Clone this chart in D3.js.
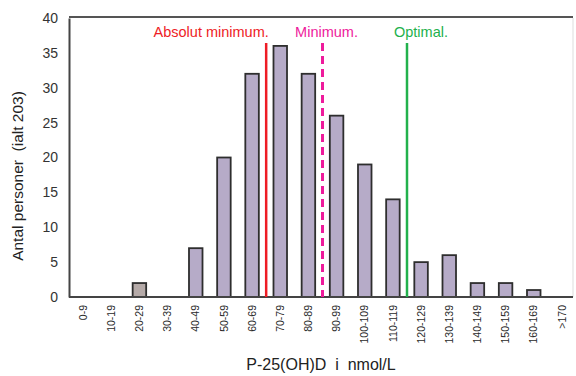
<!DOCTYPE html>
<html>
<head>
<meta charset="utf-8">
<script src="https://cdn.jsdelivr.net/npm/d3@7"></script>
<style>
  body { margin: 0; background: #fff; }
  svg { font-family: "Liberation Sans", Arial, sans-serif; }
</style>
</head>
<body>
<script>
const width = 576,
  height = 376;

// antal personer per intervall (nmol/L)
const categories = ['0-9', '10-19', '20-29', '30-39', '40-49', '50-59', '60-69', '70-79', '80-89',
  '90-99', '100-109', '110-119', '120-129', '130-139', '140-149', '150-159', '160-169', '>170'];
const counts = [0, 0, 2, 0, 7, 20, 32, 36, 32, 26, 19, 14, 5, 6, 2, 2, 1, 0];
const yTicks = [0, 5, 10, 15, 20, 25, 30, 35, 40];

// gränser: linjen dras vid början av intervallet
const limits = [
  { label: 'Absolut minimum.', at: '70-79', color: '#ee1c25', dash: null, labelX: -55 },
  { label: 'Minimum.', at: '90-99', color: '#ee1b9c', dash: '8,5', labelX: 4 },
  { label: 'Optimal.', at: '120-129', color: '#22b14c', dash: null, labelX: 14 }
];

const mLeft = 69, mTop = 18, mRight = 573, mBottom = 297;

const x = d3.scaleBand().domain(categories).range([69, 576]).paddingInner(0.52).paddingOuter(0.26);
const y = d3.scaleLinear().domain([0, 40]).range([mBottom, mTop]);

const svg = d3.select('body').append('svg').attr('width', width).attr('height', height);

// ram
svg.append('line').attr('x1', mLeft).attr('x2', mRight).attr('y1', mTop - 1).attr('y2', mTop - 1)
  .attr('stroke', '#555').attr('stroke-width', 2);
svg.append('line').attr('x1', mRight).attr('x2', mRight).attr('y1', mTop).attr('y2', mBottom)
  .attr('stroke', '#ddd').attr('stroke-width', 1);

// staplar
svg.selectAll('rect.bar')
  .data(categories.map((c, i) => ({ c, v: counts[i] })).filter(d => d.v > 0))
  .join('rect')
  .attr('class', 'bar')
  .attr('x', d => x(d.c))
  .attr('y', d => y(d.v))
  .attr('width', x.bandwidth())
  .attr('height', d => mBottom - y(d.v))
  .attr('fill', d => d.c === '20-29' ? '#b5aaa8' : '#b6abc8')
  .attr('stroke', '#2e2e2e')
  .attr('stroke-width', 1.8);

// y-axel
const yAxis = svg.append('g').attr('transform', `translate(${mLeft},0)`)
  .call(d3.axisLeft(y).tickValues(yTicks).tickSize(0).tickPadding(11));
yAxis.select('.domain').attr('stroke', '#444').attr('stroke-width', 2);
yAxis.selectAll('text').attr('font-size', 14).attr('fill', '#333')
  .attr('font-family', '"Liberation Sans", Arial, sans-serif');

// x-axel
const xAxis = svg.append('g').attr('transform', `translate(0,${mBottom})`)
  .call(d3.axisBottom(x).tickSize(0));
xAxis.select('.domain').attr('d', `M${mLeft},0H${mRight}`).attr('stroke', '#444').attr('stroke-width', 2);
xAxis.selectAll('text')
  .attr('font-size', 10.5).attr('fill', '#2a2a2a')
  .attr('font-family', '"Liberation Sans", Arial, sans-serif')
  .attr('transform', 'rotate(-90)')
  .attr('text-anchor', 'end')
  .attr('x', -8).attr('y', 0).attr('dy', '0.35em');

// gränslinjer
const slotStart = c => x(c) - (x.step() - x.bandwidth()) / 2;
limits.forEach(l => {
  const lx = slotStart(l.at);
  svg.append('line')
    .attr('x1', lx).attr('x2', lx).attr('y1', 43).attr('y2', mBottom)
    .attr('stroke', l.color).attr('stroke-width', l.dash ? 3 : 2.5)
    .attr('stroke-dasharray', l.dash);
  svg.append('text')
    .attr('x', lx + l.labelX).attr('y', 37)
    .attr('text-anchor', 'middle')
    .attr('font-size', 14.5)
    .attr('fill', l.color)
    .text(l.label);
});

// axeltitlar
svg.append('text')
  .attr('x', 321).attr('y', 370)
  .attr('text-anchor', 'middle').attr('font-size', 16).attr('fill', '#222')
  .attr('xml:space', 'preserve')
  .text('P-25(OH)D  i  nmol/L');

svg.append('text')
  .attr('transform', 'translate(23,176) rotate(-90)')
  .attr('text-anchor', 'middle').attr('font-size', 15.5).attr('fill', '#222')
  .attr('xml:space', 'preserve')
  .text('Antal personer  (ialt 203)');
</script>
</body>
</html>
